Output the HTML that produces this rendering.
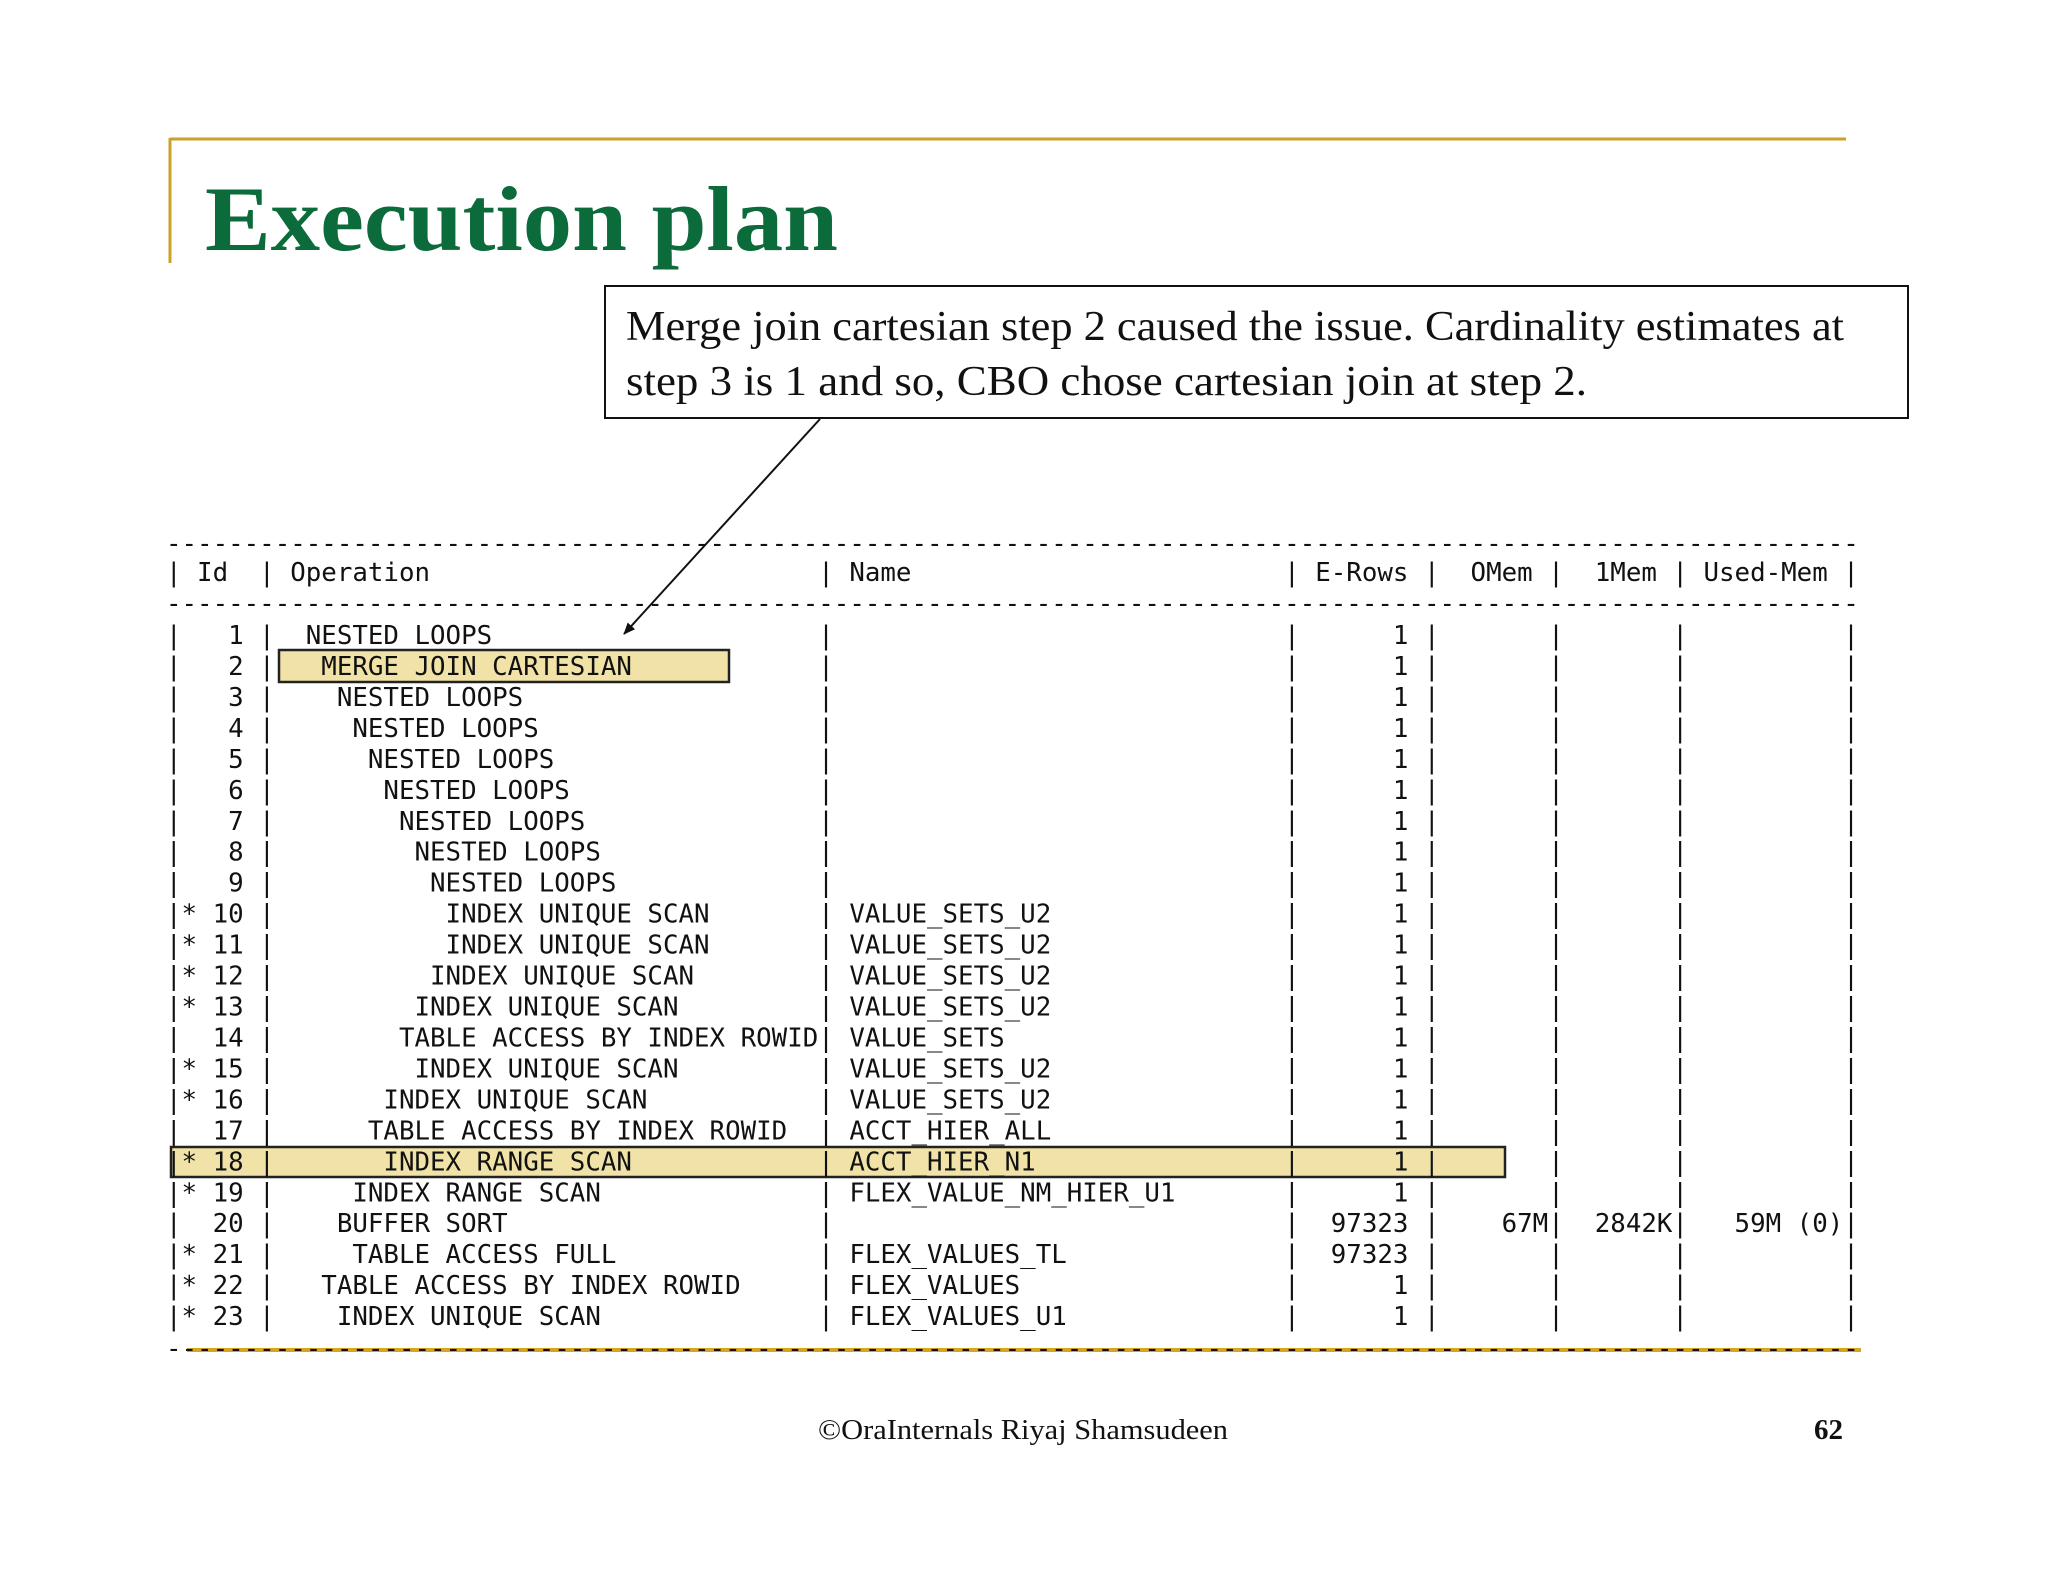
<!DOCTYPE html>
<html><head><meta charset="utf-8">
<style>
html,body{margin:0;padding:0;background:#fff;}
svg{display:block;}
.mono{font-family:"DejaVu Sans Mono","Liberation Mono",monospace;font-size:25.8px;fill:#111;white-space:pre;}
</style></head>
<body>
<svg id="slide" width="2048" height="1582" viewBox="0 0 2048 1582" xmlns="http://www.w3.org/2000/svg">
  <line x1="170" y1="139" x2="1846" y2="139" stroke="#c9a227" stroke-width="3"/>
  <line x1="170" y1="138" x2="170" y2="263" stroke="#c9a227" stroke-width="3"/>
  <text x="205" y="250" font-family="Liberation Serif, serif" font-weight="bold" font-size="92" fill="#0b6b3a" textLength="633" lengthAdjust="spacingAndGlyphs">Execution plan</text>

  <rect x="605" y="286" width="1303" height="132" fill="#fff" stroke="#111" stroke-width="2"/>
  <text x="626" y="340" font-family="Liberation Serif, serif" font-size="42" fill="#111" textLength="1218" lengthAdjust="spacingAndGlyphs">Merge join cartesian step 2 caused the issue. Cardinality estimates at</text>
  <text x="626" y="395" font-family="Liberation Serif, serif" font-size="42" fill="#111" textLength="961" lengthAdjust="spacingAndGlyphs">step 3 is 1 and so, CBO chose cartesian join at step 2.</text>
  <defs><marker id="ah" markerWidth="12" markerHeight="10" refX="11" refY="5" orient="auto" markerUnits="userSpaceOnUse"><path d="M0,0 L12,5 L0,10 Z" fill="#111"/></marker></defs>
  <line x1="820" y1="419" x2="624" y2="634" stroke="#111" stroke-width="2" marker-end="url(#ah)"/>

  <rect x="279" y="650" width="450" height="32" fill="#f1e3a8" stroke="#222" stroke-width="2.5"/>
  <rect x="171" y="1147" width="1334" height="30" fill="#f1e3a8" stroke="#222" stroke-width="2.5"/>
  <line x1="187" y1="1350" x2="1861" y2="1350" stroke="#d4a520" stroke-width="4"/>
  <g id="plan"></g>

  <text x="818" y="1439" font-family="Liberation Serif, serif" font-size="29" fill="#111" textLength="410" lengthAdjust="spacingAndGlyphs">©OraInternals  Riyaj Shamsudeen</text>
  <text x="1814" y="1439" font-family="Liberation Serif, serif" font-weight="bold" font-size="29" fill="#111">62</text>
</svg>
<script>
const ids = [1,2,3,4,5,6,7,8,9,10,11,12,13,14,15,16,17,18,19,20,21,22,23];
const stars = [0,0,0,0,0,0,0,0,0,1,1,1,1,0,1,1,0,1,1,0,1,1,1];
const depths = [1,2,3,4,5,6,7,8,9,10,10,9,8,7,8,6,5,6,4,3,4,2,3];
const ops = ["NESTED LOOPS","MERGE JOIN CARTESIAN","NESTED LOOPS","NESTED LOOPS","NESTED LOOPS","NESTED LOOPS","NESTED LOOPS","NESTED LOOPS","NESTED LOOPS","INDEX UNIQUE SCAN","INDEX UNIQUE SCAN","INDEX UNIQUE SCAN","INDEX UNIQUE SCAN","TABLE ACCESS BY INDEX ROWID","INDEX UNIQUE SCAN","INDEX UNIQUE SCAN","TABLE ACCESS BY INDEX ROWID","INDEX RANGE SCAN","INDEX RANGE SCAN","BUFFER SORT","TABLE ACCESS FULL","TABLE ACCESS BY INDEX ROWID","INDEX UNIQUE SCAN"];
const names = ["","","","","","","","","","VALUE_SETS_U2","VALUE_SETS_U2","VALUE_SETS_U2","VALUE_SETS_U2","VALUE_SETS","VALUE_SETS_U2","VALUE_SETS_U2","ACCT_HIER_ALL","ACCT_HIER_N1","FLEX_VALUE_NM_HIER_U1","","FLEX_VALUES_TL","FLEX_VALUES","FLEX_VALUES_U1"];
const erows = ["1","1","1","1","1","1","1","1","1","1","1","1","1","1","1","1","1","1","1","97323","97323","1","1"];
const omem = ["","","","","","","","","","","","","","","","","","","","67M","","",""];
const mem1 = ["","","","","","","","","","","","","","","","","","","","2842K","","",""];
const used = ["","","","","","","","","","","","","","","","","","","","59M (0)","","",""];

const NS = "http://www.w3.org/2000/svg";
const g = document.getElementById('plan');
const X0 = 166, CW = 15.53;
function put(arr, s, pos){ for(let i=0;i<s.length;i++) arr[pos+i]=s[i]; }
function mkLine(str, y, hl){
  const t = document.createElementNS(NS,'text');
  t.setAttribute('x', X0);
  t.setAttribute('y', y);
  t.setAttribute('class','mono');
  t.setAttribute('textLength', (str.length*CW).toFixed(1));
  t.setAttribute('lengthAdjust','spacingAndGlyphs');
  t.setAttribute('xml:space','preserve');
  if(hl) t.setAttribute('fill','#4a3c08');
  t.textContent = str;
  g.appendChild(t);
  return t;
}
const dash = "-".repeat(109);
const d1 = mkLine(dash, 552);


const header = Array(109).fill(' ');
put(header,'|',0); put(header,'Id',2); put(header,'|',6); put(header,'Operation',8);
put(header,'|',42); put(header,'Name',44); put(header,'|',72); put(header,'E-Rows',74);
put(header,'|',81); put(header,'OMem',84); put(header,'|',89); put(header,'1Mem',92);
put(header,'|',97); put(header,'Used-Mem',99); put(header,'|',108);
const h = mkLine(header.join(''), 581);


const d2 = mkLine(dash, 612);



for(let r=0;r<ids.length;r++){
  const a = Array(109).fill(' ');
  put(a,'|',0);
  if(stars[r]) put(a,'*',1);
  const idS = String(ids[r]); put(a,idS,5-idS.length);
  put(a,'|',6);
  put(a,ops[r],8+depths[r]);
  a[42]='|';
  put(a,names[r],44);
  put(a,'|',72);
  put(a,erows[r],80-erows[r].length);
  put(a,'|',81);
  put(a,omem[r],89-omem[r].length);
  put(a,'|',89);
  put(a,mem1[r],97-mem1[r].length);
  put(a,'|',97);
  put(a,used[r],108-used[r].length);
  put(a,'|',108);
  const y = 644 + r*30.96;
  const t = mkLine(a.join('').replace(/\s+$/,''), y.toFixed(1), ids[r]===2||ids[r]===18);
  
  
}
const d3 = mkLine(dash, 1357);


</script>
</body></html>
